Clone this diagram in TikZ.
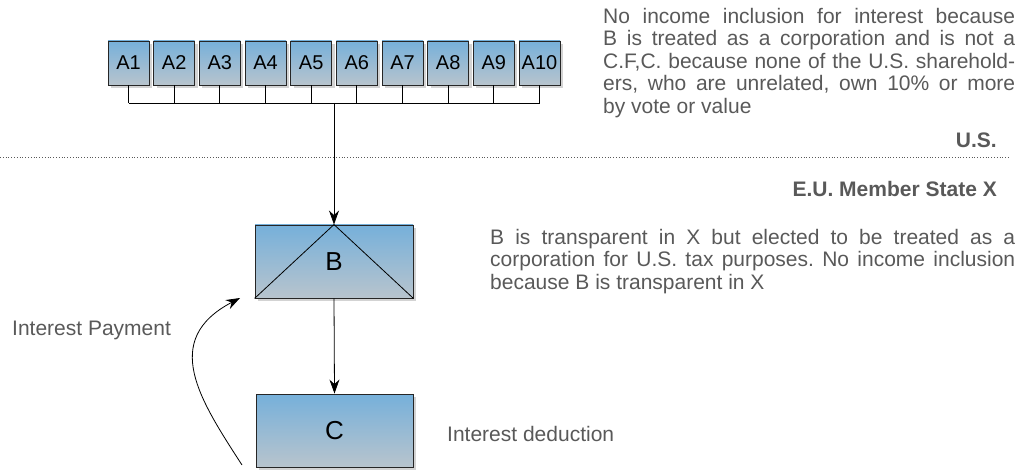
\documentclass[tikz,border=0pt]{standalone}
\usepackage{fontspec}
\setmainfont{Liberation Sans}
\usetikzlibrary{arrows.meta,shadows,calc}
\definecolor{txtgray}{RGB}{89,89,89}
\definecolor{boxtop}{RGB}{118,176,218}
\definecolor{boxbot}{RGB}{184,196,205}
\frenchspacing
\tikzset{
  ent/.style={draw=black!85, line width=0.9pt, top color=boxtop, bottom color=boxbot,
    drop shadow={opacity=0.35, shadow xshift=3pt, shadow yshift=-3pt}, inner sep=0pt},
  abox/.style={ent, minimum width=41pt, minimum height=44pt, font=\fontsize{20}{24}\selectfont},
  bigbox/.style={ent, minimum width=158pt, minimum height=73pt, font=\fontsize{26}{30}\selectfont},
  conn/.style={line width=0.8pt, black},
  arr/.style={conn, -{Stealth[length=14pt,width=10pt]}},
  para/.style={text=txtgray, inner sep=0pt, align=left, font=\fontsize{21}{22.5}\selectfont},
  lbl/.style={text=txtgray, inner sep=0pt, font=\fontsize{21}{24}\selectfont},
  blbl/.style={text=txtgray, inner sep=0pt, font=\fontsize{21}{24}\selectfont\bfseries},
}
\begin{document}
\begin{tikzpicture}[x=1pt,y=-1pt]
\useasboundingbox (0,0) rectangle (1032,470);
% A boxes
\foreach \i in {1,...,10} {
  \node[abox] (A\i) at ({128.5+45.67*(\i-1)},63) {A\i};
}
\coordinate (bus) at (0,103);
\foreach \i in {1,...,10} {
  \draw[conn] (A\i.south) -- (A\i.south |- bus);
}
\draw[conn] (A1.south |- bus) -- (A10.south |- bus);
% B and C
\node[bigbox] (B) at (334,261.5) {B};
\draw[conn] (B.north) -- (B.south west);
\draw[conn] (B.north) -- (B.south east);
\node[bigbox, minimum width=157pt] (C) at (334.5,430.5) {C};
\coordinate (trunk) at (B.north |- bus);
\draw[arr] (trunk) -- (B.north);
\draw[arr] (B.south) -- (C.north);
% curved payment arrow
\coordinate (cs) at (242,465);
\coordinate (ce) at (240,298);
\draw[arr] (cs) .. controls (200,400) and (160,340) .. (ce);
% dotted border
\coordinate (dl) at (0,157);
\coordinate (dr) at (1010,157);
\draw[txtgray, dotted, line width=0.8pt] (dl) -- (dr);
% texts
\node[para, anchor=north west] (t1) at (603,8) {%
\makebox[412pt][s]{No income inclusion for interest because}\\
\makebox[412pt][s]{B is treated as a corporation and is not a}\\
\makebox[412pt][s]{C.F,C. because none of the U.S. sharehold-}\\
\makebox[412pt][s]{ers, who are unrelated, own 10\% or more}\\
by vote or value};
\node[blbl, anchor=north east] (us) at (997,133) {U.S.};
\node[blbl, anchor=north east] (eu) at (997,181) {E.U. Member State X};
\node[para, anchor=north west] (t2) at (490,229) {%
\makebox[525pt][s]{B is transparent in X but elected to be treated as a}\\
\makebox[525pt][s]{corporation for U.S. tax purposes. No income inclusion}\\
because B is transparent in X};
\node[lbl, anchor=base west] (ip) at (12,335) {Interest Payment};
\node[lbl, anchor=base west] (id) at (447,441) {Interest deduction};
\end{tikzpicture}
\end{document}
